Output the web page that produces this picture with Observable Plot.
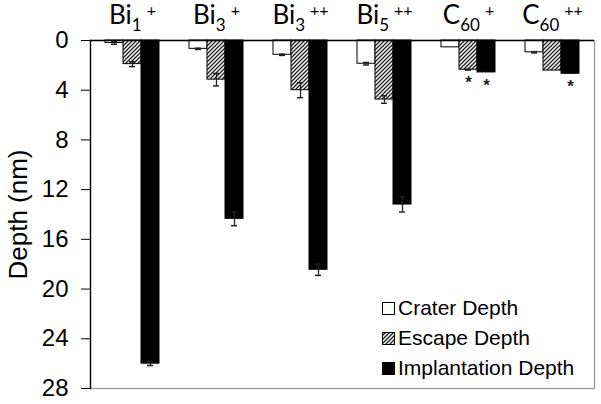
<!DOCTYPE html>
<html><head><meta charset="utf-8">
<script src="https://cdn.jsdelivr.net/npm/d3@7"></script>
<script src="https://cdn.jsdelivr.net/npm/@observablehq/plot@0.6"></script>
<style>
body{margin:0;background:#fff;}
#wrap{position:relative;width:601px;height:404px;}
#legend{position:absolute;left:382px;top:293px;font-family:"Liberation Sans",Arial,sans-serif;font-size:21px;color:#000;}
.item{display:flex;align-items:center;height:30px;white-space:nowrap;}
.item svg{margin-right:3px;}
</style></head><body><div id="wrap"></div>
<script>
const categories = ["Bi1+","Bi3+","Bi3++","Bi5++","C60+","C60++"];
const series = ["Crater Depth","Escape Depth","Implantation Depth"];
const crater = [0.2,0.67,1.15,1.87,0.55,0.95];
const craterErr = [0.1,0.05,0.05,0.1,0,0.05];
const escape = [1.9,3.15,4.0,4.75,2.35,2.42];
const escapeErr = [0.2,0.5,0.6,0.3,0.03,0];
const implant = [26.0,14.35,18.45,13.2,2.57,2.68];
const implantErr = [0.15,0.55,0.45,0.6,0,0];
const yTicks = [0,4,8,12,16,20,24,28];
const yLabel = "Depth (nm)";
const starred = [["C60+","Escape Depth"],["C60+","Implantation Depth"],["C60++","Implantation Depth"]];
const fills = ["white","url(#hatch)","black"];

const vals = [crater, escape, implant];
const errs = [craterErr, escapeErr, implantErr];
const rows = categories.flatMap((c,i)=>series.map((s,j)=>({cat:c, series:s, value:vals[j][i], err:errs[j][i]})));
const isStar = d => starred.some(([c,s])=>c===d.cat && s===d.series);

const chart = Plot.plot({
  width:601, height:404,
  marginLeft:89, marginRight:7, marginTop:40, marginBottom:16,
  style:{fontFamily:"Liberation Sans, Arial, sans-serif", fontSize:"24px", color:"black", background:"white"},
  facet:{data:rows, x:"cat"},
  fx:{domain:categories, padding:0, axis:"top", tickSize:0, tickPadding:15, label:null},
  x:{domain:series, paddingInner:0, paddingOuter:0.715, axis:null},
  y:{domain:[0,28], reverse:true, ticks:yTicks, tickSize:9, tickPadding:13, label:null},
  color:{domain:series, range:fills},
  marks:[
    Plot.frame({facet:"super", stroke:"#999", strokeWidth:1.3}),
    Plot.barY(rows, {x:"series", y1:0, y2:"value", fill:"series", stroke:"black", strokeWidth:1}),
    Plot.ruleX(rows, {filter:d=>d.err>0, x:"series", y1:d=>d.value-d.err, y2:d=>d.value+d.err, stroke:"#222", strokeWidth:1.3}),
    Plot.tickY(rows, {filter:d=>d.err>0, x:"series", y:d=>d.value+d.err, insetLeft:6, insetRight:6, stroke:"#222", strokeWidth:1.5}),
    Plot.tickY(rows, {filter:d=>d.err>0, x:"series", y:d=>d.value-d.err, insetLeft:6, insetRight:6, stroke:"#222", strokeWidth:1.5}),
    Plot.text(rows, {filter:isStar, x:"series", y:"value", text:()=>"*", dy:13, fontSize:17, fontWeight:"bold", fill:"#222"}),
    Plot.ruleY([0], {stroke:"black", strokeWidth:1.3}),
    Plot.frame({facet:"super", anchor:"left", stroke:"black", strokeWidth:1.3}),
    Plot.text(rows, {filter:d=>d===rows[0], text:()=>yLabel, frameAnchor:"left", rotate:-90, dx:-64, lineAnchor:"bottom", textAnchor:"middle", fontSize:26, fill:"black"})
  ]
});
const wrap = document.getElementById("wrap");
wrap.appendChild(chart);
const svg = chart.tagName.toLowerCase()==="svg" ? chart : chart.querySelector("svg");

const ns = "http://www.w3.org/2000/svg";
const defs = document.createElementNS(ns,"defs");
defs.innerHTML = '<pattern id="hatch" patternUnits="userSpaceOnUse" width="4" height="4"><rect width="4" height="4" fill="white"/><path d="M0,4 L4,0 M-1,1 L1,-1 M3,5 L5,3" stroke="#222" stroke-width="1.35"/></pattern>';
svg.insertBefore(defs, svg.firstChild);

svg.querySelectorAll("text").forEach(t=>{
  const s = t.textContent;
  if (!categories.includes(s)) return;
  const m = s.match(/^([A-Za-z]+)(\d+)(\++)$/);
  t.textContent = "";
  t.style.fontFamily = "Lato, sans-serif";
  const a = document.createElementNS(ns,"tspan"); a.textContent = m[1]; a.setAttribute("font-size","26px"); a.setAttribute("dy","-2");
  const b = document.createElementNS(ns,"tspan"); b.textContent = m[2]; b.setAttribute("font-size","17px"); b.setAttribute("dy","7");
  const c = document.createElementNS(ns,"tspan"); c.textContent = m[3]; c.setAttribute("font-size","16px"); c.setAttribute("dy","-15"); c.setAttribute("dx","5");
  t.append(a,b,c);
});

const lg = document.createElement("div"); lg.id="legend";
series.forEach((s,i)=>{
  const it = document.createElement("div"); it.className="item";
  it.innerHTML = `<svg width="13" height="13"><rect x="0.5" y="0.5" width="12" height="12" fill="${fills[i]}" stroke="black" stroke-width="1"/></svg><span>${s}</span>`;
  lg.appendChild(it);
});
wrap.appendChild(lg);
</script></body></html>
